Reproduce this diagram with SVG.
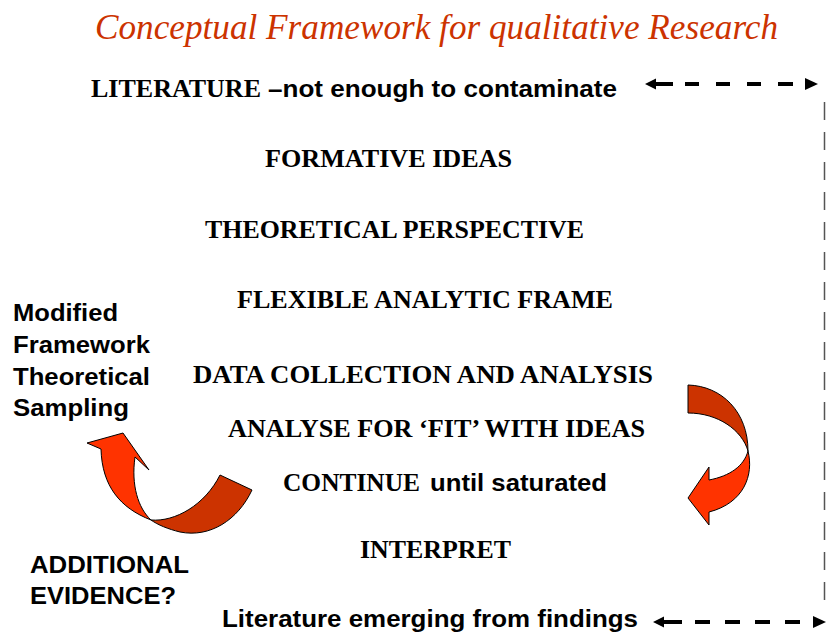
<svg xmlns="http://www.w3.org/2000/svg" width="826" height="634" viewBox="0 0 826 634">
  <defs>
    <style>
      .title { font-family: "Liberation Serif", "DejaVu Serif", serif; font-style: italic; font-size: 35px; fill: #cc3300; }
      .serif { font-family: "Liberation Serif", "Times New Roman", serif; font-weight: bold; font-size: 26px; fill: #000; }
      .sans { font-family: "Liberation Sans", Arial, sans-serif; font-weight: bold; font-size: 24px; fill: #000; }
      .dash { fill: none; stroke: #000; stroke-width: 4; }
      .head { fill: #000; }
      .guide { fill: none; stroke: #555; stroke-width: 1.5; stroke-dasharray: 18 12; }
      .dark { fill: #cc3300; stroke: #000; stroke-width: 1; stroke-linejoin: round; }
      .light { fill: #ff3300; stroke: #000; stroke-width: 1; stroke-linejoin: round; }
    </style>
  </defs>
  <rect width="826" height="634" fill="#fff"/>

  <g id="title">
    <text class="title" x="95" y="39" textLength="683" lengthAdjust="spacingAndGlyphs">Conceptual Framework for qualitative Research</text>
  </g>

  <g id="literature">
    <text class="serif" x="91" y="97" textLength="170" lengthAdjust="spacingAndGlyphs">LITERATURE</text>
    <text class="sans" x="268" y="97" textLength="349" lengthAdjust="spacingAndGlyphs">–not enough to contaminate</text>
  </g>
  <g id="formative-ideas">
    <text class="serif" x="265" y="167" textLength="247" lengthAdjust="spacingAndGlyphs">FORMATIVE IDEAS</text>
  </g>
  <g id="theoretical-perspective">
    <text class="serif" x="205" y="238" textLength="379" lengthAdjust="spacingAndGlyphs">THEORETICAL PERSPECTIVE</text>
  </g>
  <g id="flexible-frame">
    <text class="serif" x="237" y="308" textLength="376" lengthAdjust="spacingAndGlyphs">FLEXIBLE ANALYTIC FRAME</text>
  </g>
  <g id="data-collection">
    <text class="serif" x="193" y="383" textLength="460" lengthAdjust="spacingAndGlyphs">DATA COLLECTION AND ANALYSIS</text>
  </g>
  <g id="analyse-fit">
    <text class="serif" x="228" y="437" textLength="417" lengthAdjust="spacingAndGlyphs">ANALYSE FOR ‘FIT’ WITH IDEAS</text>
  </g>
  <g id="continue">
    <text class="serif" x="283" y="491" textLength="137" lengthAdjust="spacingAndGlyphs">CONTINUE</text>
    <text class="sans" x="430" y="491" textLength="177" lengthAdjust="spacingAndGlyphs">until saturated</text>
  </g>
  <g id="interpret">
    <text class="serif" x="360" y="558" textLength="151" lengthAdjust="spacingAndGlyphs">INTERPRET</text>
  </g>
  <g id="literature-emerging">
    <text class="sans" x="222" y="627" textLength="416" lengthAdjust="spacingAndGlyphs">Literature emerging from findings</text>
  </g>
  <g id="modified-framework">
    <text class="sans" x="13" y="321" textLength="105" lengthAdjust="spacingAndGlyphs">Modified</text>
    <text class="sans" x="13" y="353" textLength="137" lengthAdjust="spacingAndGlyphs">Framework</text>
    <text class="sans" x="13" y="385" textLength="137" lengthAdjust="spacingAndGlyphs">Theoretical</text>
    <text class="sans" x="13" y="416" textLength="116" lengthAdjust="spacingAndGlyphs">Sampling</text>
  </g>
  <g id="additional-evidence">
    <text class="sans" x="30" y="573" textLength="159" lengthAdjust="spacingAndGlyphs">ADDITIONAL</text>
    <text class="sans" x="30" y="604" textLength="146" lengthAdjust="spacingAndGlyphs">EVIDENCE?</text>
  </g>

  <!-- curved loop arrows -->
  <g id="loop-right">
    <path class="dark" d="M688,385 C722,386 748,412 748,451 C742,430 718,413 688,413 Z"/>
    <path class="light" d="M748,451 C754,475 744,503 709,512 L709,525 L688,498 L709,467 L709,480 C730,476 744,466 748,451 Z"/>
  </g>
  <g id="loop-left">
    <path class="dark" d="M220,475 L252,490 C238,520 210,538 180,532 C168,529 158,525 151,520 C175,522 205,505 220,475 Z"/>
    <path class="light" d="M151,520 C120,508 102,486 101,449 L87,443 L123,433 L149,470 L135,457 C131,485 138,508 151,520 Z"/>
  </g>

  <g id="connectors">
    <!-- top two-way dashed arrow -->
    <path class="dash" d="M653,84 H673 M685,84 H699 M716,84 H730 M747,84 H761 M778,84 H793"/>
    <polygon class="head" points="645,84 656,78.5 656,89.5"/>
    <polygon class="head" points="805,78 818,84 805,90"/>
    <!-- bottom two-way dashed arrow -->
    <path class="dash" d="M661,622 H682 M695,622 H710 M725,622 H740 M755,622 H770 M785,622 H800"/>
    <polygon class="head" points="653,622 664,616.5 664,627.5"/>
    <polygon class="head" points="813,616 826,622 813,628"/>
    <!-- right-hand vertical link -->
    <line class="guide" x1="824.5" y1="102" x2="824.5" y2="612"/>
  </g>
</svg>
